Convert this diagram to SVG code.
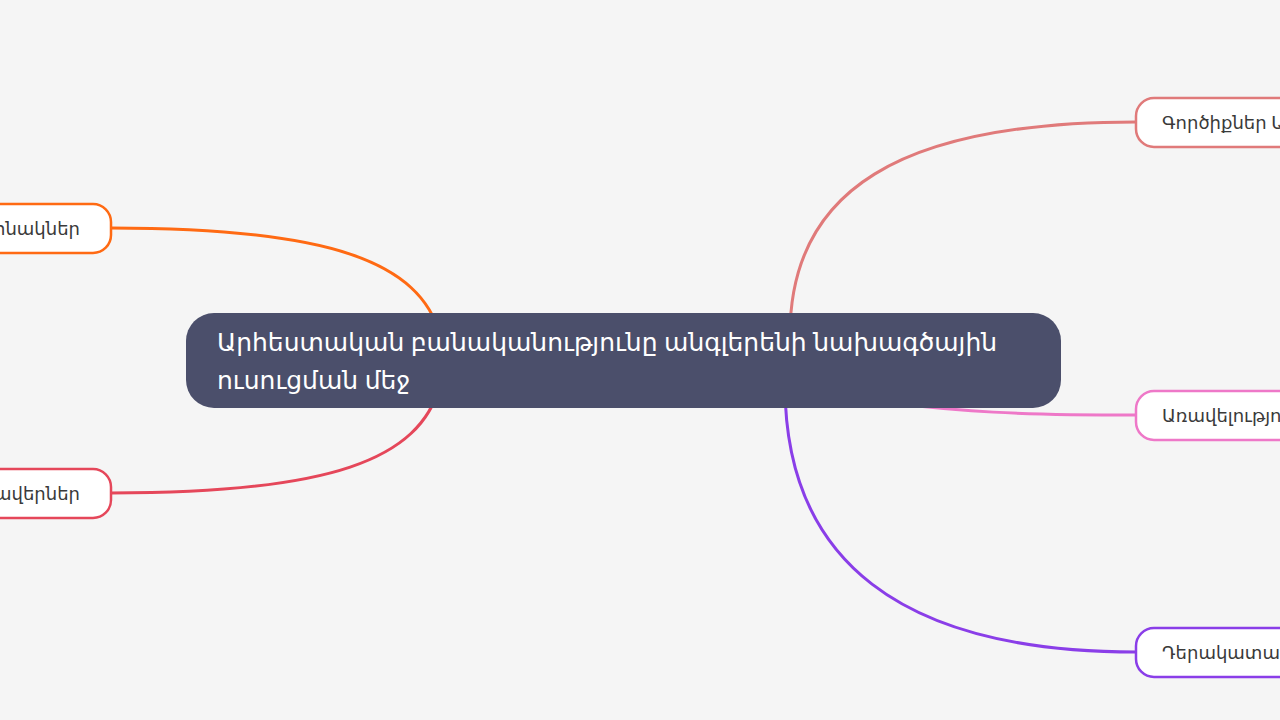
<svg xmlns="http://www.w3.org/2000/svg" width="1280" height="720" viewBox="0 0 1280 720">
<style>
.bg{fill:#f5f5f5}
.link{fill:none;stroke-width:3;stroke-linecap:round}
.node{fill:#ffffff;stroke-width:2.5}
.lbl{font-family:"Noto Sans","DejaVu Sans",sans-serif;font-size:18px;fill:#3a3a3a}
.root{fill:#4b4f6b}
.rootlbl{font-family:"Noto Sans","DejaVu Sans",sans-serif;font-size:25px;fill:#ffffff}
</style>
<rect class="bg" x="0" y="0" width="1280" height="720"/>
<g id="connectors">
<path class="link" stroke="#ff6a13" d="M111,228 C 330,228 420,262 440,335"/>
<path class="link" stroke="#e5475a" d="M111,493 C 330,493 420,460 440,385"/>
<path class="link" stroke="#e07a7a" d="M1136,122 C 900,122 790,190 790,335"/>
<path class="link" stroke="#ee78c8" d="M1136,415 C 1010,415 960,411 900,404"/>
<path class="link" stroke="#8a3ee8" d="M785,385 C 785,560 900,652 1136,652"/>
</g>
<g id="root">
<rect class="root" x="186" y="313" width="875" height="95" rx="28"/>
<text class="rootlbl" x="217" y="351">Արհեստական բանականությունը անգլերենի նախագծային</text>
<text class="rootlbl" x="217" y="389">ուսուցման մեջ</text>
</g>
<g id="node-examples">
<rect class="node" stroke="#ff6a13" x="-120" y="204" width="231" height="49" rx="18"/>
<text class="lbl" x="80" y="235" text-anchor="end">ինակներ</text>
</g>
<g id="node-challenges">
<rect class="node" stroke="#e5475a" x="-120" y="469" width="231" height="49" rx="18"/>
<text class="lbl" x="80" y="500" text-anchor="end">րավերներ</text>
</g>
<g id="node-tools">
<rect class="node" stroke="#e07a7a" x="1136" y="98" width="260" height="49" rx="18"/>
<text class="lbl" x="1162" y="129">Գործիքներ Ա</text>
</g>
<g id="node-advantages">
<rect class="node" stroke="#ee78c8" x="1136" y="391" width="260" height="49" rx="18"/>
<text class="lbl" x="1162" y="422">Առավելությու</text>
</g>
<g id="node-role">
<rect class="node" stroke="#8a3ee8" x="1136" y="628" width="260" height="49" rx="18"/>
<text class="lbl" x="1162" y="659">Դերակատար</text>
</g>
</svg>
